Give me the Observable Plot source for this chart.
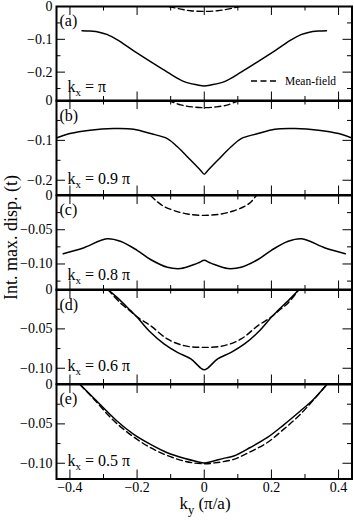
<!DOCTYPE html>
<html>
<head>
<meta charset="utf-8">
<script src="https://cdn.jsdelivr.net/npm/d3@7"></script>
<script src="https://cdn.jsdelivr.net/npm/@observablehq/plot@0.6"></script>
<style>
html,body{margin:0;padding:0;background:#fff;}
#chart{position:relative;width:354px;height:520px;overflow:hidden;background:#fff;}
#chart svg{position:absolute;left:0;overflow:visible;}
#chart svg, #chart svg text, #chart svg tspan{font-family:"Liberation Serif","Times New Roman",Times,serif !important;}
</style>
</head>
<body>
<div id="chart"></div>
<script>
// ---------- data ----------
const xMajor = [-0.4, -0.2, 0, 0.2, 0.4];
const xMinor = [-0.3, -0.1, 0.1, 0.3];
const xLabels = ["−0.4", "−0.2", "0", "0.2", "0.4"];

const panelLabels = ["(a)", "(b)", "(c)", "(d)", "(e)"];
const kxValues = ["π", "0.9 π", "0.8 π", "0.6 π", "0.5 π"];

// (a) kx = π
const kyA = [-0.364,-0.34,-0.31,-0.29,-0.26,-0.21,-0.16,-0.11,-0.06,-0.02,0,0.02,0.06,0.11,0.16,0.21,0.26,0.29,0.31,0.34,0.364];
const solidA = [-0.074,-0.075,-0.079,-0.085,-0.101,-0.135,-0.168,-0.200,-0.229,-0.239,-0.242,-0.239,-0.229,-0.200,-0.168,-0.135,-0.101,-0.085,-0.079,-0.075,-0.074];
const kyMfA = [-0.105,-0.07,-0.04,0,0.04,0.07,0.105];
const mfA = [0,-0.008,-0.013,-0.015,-0.013,-0.008,0];

// (b) kx = 0.9 π
const kyB = [-0.44,-0.40,-0.34,-0.27,-0.21,-0.16,-0.11,-0.08,-0.04,-0.01,0,0.01,0.04,0.08,0.11,0.16,0.21,0.27,0.34,0.40,0.44];
const solidB = [-0.094,-0.083,-0.0745,-0.0704,-0.072,-0.083,-0.0955,-0.116,-0.150,-0.176,-0.185,-0.176,-0.150,-0.116,-0.0955,-0.083,-0.072,-0.0704,-0.0745,-0.083,-0.094];
const kyMfB = [-0.107,-0.07,-0.035,0,0.035,0.07,0.102];
const mfB = [0,-0.011,-0.016,-0.018,-0.016,-0.011,0];

// (c) kx = 0.8 π
const kyC = [-0.42,-0.36,-0.29,-0.25,-0.20,-0.16,-0.11,-0.07,-0.03,-0.015,0,0.015,0.03,0.07,0.11,0.16,0.20,0.25,0.29,0.36,0.42];
const solidC = [-0.085,-0.0766,-0.0632,-0.0668,-0.080,-0.0935,-0.1047,-0.1066,-0.1008,-0.0978,-0.0945,-0.0978,-0.1008,-0.1066,-0.1047,-0.0935,-0.080,-0.0668,-0.0632,-0.0766,-0.085];
const kyMfC = [-0.16,-0.14,-0.12,-0.09,-0.05,0,0.05,0.09,0.12,0.14,0.155];
const mfC = [0,-0.009,-0.016,-0.022,-0.027,-0.029,-0.027,-0.022,-0.016,-0.009,0];

// (d) kx = 0.6 π
const kyD = [-0.287,-0.26,-0.22,-0.20,-0.19,-0.16,-0.12,-0.08,-0.04,-0.02,-0.01,0,0.01,0.02,0.04,0.08,0.12,0.16,0.19,0.20,0.22,0.26,0.282];
const solidD = [0,-0.010,-0.0265,-0.035,-0.040,-0.0544,-0.0691,-0.0798,-0.0882,-0.096,-0.100,-0.102,-0.100,-0.096,-0.0882,-0.0798,-0.0691,-0.0544,-0.040,-0.035,-0.0265,-0.010,0];
const kyMfD = [-0.287,-0.25,-0.22,-0.198,-0.16,-0.11,-0.06,0,0.06,0.11,0.16,0.198,0.22,0.25,0.282];
const mfD = [0,-0.017,-0.0275,-0.0354,-0.0459,-0.0628,-0.0713,-0.0735,-0.0713,-0.0628,-0.0459,-0.0354,-0.0275,-0.017,0];

// (e) kx = 0.5 π
const kyE = [-0.37,-0.33,-0.26,-0.21,-0.16,-0.11,-0.06,-0.02,0,0.02,0.06,0.088,0.137,0.187,0.236,0.286,0.325,0.365];
const solidE = [0,-0.0169,-0.0464,-0.0633,-0.076,-0.0866,-0.0937,-0.098,-0.0997,-0.098,-0.0935,-0.0908,-0.080,-0.0676,-0.0515,-0.0337,-0.019,0];
const kyMfE = [-0.37,-0.33,-0.26,-0.16,-0.06,0,0.028,0.088,0.137,0.187,0.236,0.286,0.365];
const mfE = [0,-0.018,-0.0497,-0.0803,-0.0973,-0.1006,-0.0997,-0.095,-0.0854,-0.074,-0.057,-0.038,0];

// y axes
const yDomains = [[-0.288,0],[-0.237,0],[-0.138,0],[-0.12,0],[-0.12,0]];
const yMajor = [[0,-0.1,-0.2],[0,-0.1,-0.2],[0,-0.05,-0.10],[0,-0.05,-0.10],[0,-0.05,-0.10]];
const yMinor = [[-0.05,-0.15,-0.25],[-0.05,-0.15],[-0.025,-0.075,-0.125],[-0.025,-0.075],[-0.025,-0.075]];
const yLabels = [["0","−0.1","−0.2"],["0","−0.1","−0.2"],["0","−0.05","−0.10"],["0","−0.05","−0.10"],["0","−0.05","−0.10"]];

// ---------- layout ----------
const FONT = '"Liberation Serif","Times New Roman",Times,serif';
const W = 354, ML = 56, MR = 2.5, TOP0 = 5.5, PH = 94.5;
const innerW = W - ML - MR;
const MAJ = 9, MIN = 4.5;
const kOffsets = [8.5, 11, 9.5, 12.4, 12];

const series = [
  [kyA, solidA, kyMfA, mfA],
  [kyB, solidB, kyMfB, mfB],
  [kyC, solidC, kyMfC, mfC],
  [kyD, solidD, kyMfD, mfD],
  [kyE, solidE, kyMfE, mfE]
];

const chart = document.getElementById("chart");

series.forEach(([ky, sv, kyM, mv], i) => {
  const mt = 8, mb = i === 4 ? 40 : 8;
  const top = TOP0 + i * PH;
  const solid = ky.map((k, j) => ({ky: k, v: sv[j]}));
  const dashed = kyM.map((k, j) => ({ky: k, v: mv[j]}));
  const fmt = new Map(yMajor[i].map((v, j) => [v, yLabels[i][j]]));
  const marks = [
    Plot.line(dashed, {x: "ky", y: "v", stroke: "black", strokeWidth: 1.4, strokeDasharray: "6,3.5", curve: "catmull-rom", clip: true}),
    Plot.line(solid, {x: "ky", y: "v", stroke: "black", strokeWidth: 1.5, curve: "catmull-rom", clip: true}),
    Plot.tickX(xMajor, {x: d => d, insetBottom: PH - MAJ, stroke: "black"}),
    Plot.tickX(xMajor, {x: d => d, insetTop: PH - MAJ, stroke: "black"}),
    Plot.tickX(xMinor, {x: d => d, insetBottom: PH - MIN, stroke: "black"}),
    Plot.tickX(xMinor, {x: d => d, insetTop: PH - MIN, stroke: "black"}),
    Plot.tickY(yMajor[i], {y: d => d, insetRight: innerW - MAJ, stroke: "black"}),
    Plot.tickY(yMajor[i], {y: d => d, insetLeft: innerW - MAJ, stroke: "black"}),
    Plot.tickY(yMinor[i], {y: d => d, insetRight: innerW - MIN, stroke: "black"}),
    Plot.tickY(yMinor[i], {y: d => d, insetLeft: innerW - MIN, stroke: "black"}),
    Plot.frame({stroke: "black", strokeWidth: 2}),
    Plot.axisY(yMajor[i], {anchor: "left", tickSize: 0, tickPadding: 4, tickFormat: d => fmt.get(d), label: null, fontSize: 14})
  ];
  const xfmt = new Map(xMajor.map((v, j) => [v, xLabels[j]]));
  if (i === 4) marks.push(Plot.axisX(xMajor, {anchor: "bottom", tickSize: 0, tickPadding: 3.5, tickFormat: d => xfmt.get(d), label: null, fontSize: 14}));
  const svg = Plot.plot({
    width: W,
    height: PH + mt + mb,
    marginLeft: ML, marginRight: MR, marginTop: mt, marginBottom: mb,
    x: i === 4 ? {domain: [-0.44, 0.44], label: null} : {domain: [-0.44, 0.44], label: null, axis: null},
    y: {domain: yDomains[i], label: null},
    style: {background: "transparent", overflow: "visible", fontFamily: FONT, fontSize: "14px", color: "black"},
    marks
  });
  svg.style.top = (top - mt) + "px";
  chart.appendChild(svg);
});

// ---------- annotations ----------
const ov = d3.create("svg")
  .attr("width", W).attr("height", 520)
  .style("top", "0px")
  .attr("font-family", FONT).attr("fill", "black");

series.forEach((_, i) => {
  const top = TOP0 + i * PH;
  ov.append("text").attr("x", 59.5).attr("y", top + 20.5).attr("font-size", 16).text(panelLabels[i]);
  const t = ov.append("text").attr("x", 67.5).attr("y", top + PH - kOffsets[i]).attr("font-size", 16);
  t.append("tspan").text("k");
  t.append("tspan").attr("font-size", 11).attr("dy", 4).text("x");
  t.append("tspan").attr("dy", -4).text(" = " + kxValues[i]);
});

// legend (panel a)
ov.append("line").attr("x1", 251).attr("x2", 276).attr("y1", 81).attr("y2", 81)
  .attr("stroke", "black").attr("stroke-width", 1.4).attr("stroke-dasharray", "6,3.5");
ov.append("text").attr("x", 285).attr("y", 85).attr("font-size", 11.5).text("Mean-field");

// axis titles
ov.append("text").attr("transform", "translate(17,237.5) rotate(-90)")
  .attr("text-anchor", "middle").attr("font-size", 18).text("Int. max. disp. (t)");
const xl = ov.append("text").attr("x", 205).attr("y", 509).attr("text-anchor", "middle").attr("font-size", 17);
xl.append("tspan").text("k");
xl.append("tspan").attr("font-size", 12.5).attr("dy", 5).text("y");
xl.append("tspan").attr("dy", -5).text(" (π/a)");

chart.appendChild(ov.node());
</script>
</body>
</html>
